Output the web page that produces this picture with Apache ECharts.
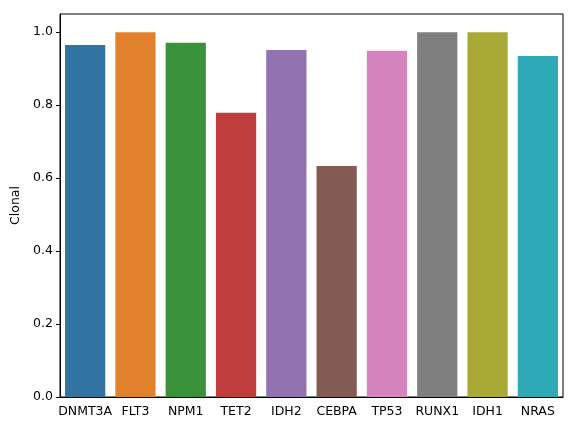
<!DOCTYPE html>
<html>
<head>
<meta charset="utf-8">
<script src="https://cdn.jsdelivr.net/npm/echarts@6/dist/echarts.min.js"></script>
<style>
  html, body { margin: 0; padding: 0; background: #fff; }
  #main { width: 576px; height: 432px; }
</style>
</head>
<body>
<div id="main"></div>
<script>
const genes = ["DNMT3A", "FLT3", "NPM1", "TET2", "IDH2", "CEBPA", "TP53", "RUNX1", "IDH1", "NRAS"];
const clonal = [0.965, 1.0, 0.971, 0.779, 0.951, 0.633, 0.949, 1.0, 1.0, 0.935];
const barColors = ["#3274a1", "#e1812c", "#3a923a", "#c03d3e", "#9372b2",
                   "#845b53", "#d684bd", "#7f7f7f", "#a9aa35", "#2ea9b7"];
const yTicks = [0, 0.2, 0.4, 0.6, 0.8, 1.0];

const chart = echarts.init(document.getElementById("main"));

const font = {
  fontFamily: "DejaVu Sans",
  fontSize: 12.5,
  color: "#000",
};

const options = {
  animation: false,
  grid: { left: 60, right: 13, top: 14, bottom: 35, show: true, borderColor: "#000", borderWidth: 1 },
  xAxis: {
    type: "category",
    data: genes,
    axisLine: { lineStyle: { color: "#000", width: 1 } },
    axisTick: { alignWithLabel: true, length: 4, lineStyle: { color: "#000" } },
    axisLabel: { ...font, margin: 8, interval: 0 },
  },
  yAxis: {
    type: "value",
    min: 0,
    max: 1.05,
    interval: 0.2,
    name: "Clonal",
    nameLocation: "middle",
    nameGap: 35,
    nameTextStyle: { ...font },
    splitLine: { show: false },
    axisLine: { show: true, lineStyle: { color: "#000", width: 1 } },
    axisTick: { show: true, length: 4, lineStyle: { color: "#000" } },
    axisLabel: {
      ...font,
      margin: 7,
      showMaxLabel: false,
      formatter: (v) => (yTicks.some((t) => Math.abs(t - v) < 1e-9) ? v.toFixed(1) : ""),
    },
  },
  series: [
    {
      type: "bar",
      barCategoryGap: "20%",
      data: clonal.map((v, i) => ({ value: v, itemStyle: { color: barColors[i] } })),
    },
  ],
};

chart.setOption(options);
</script>
</body>
</html>
